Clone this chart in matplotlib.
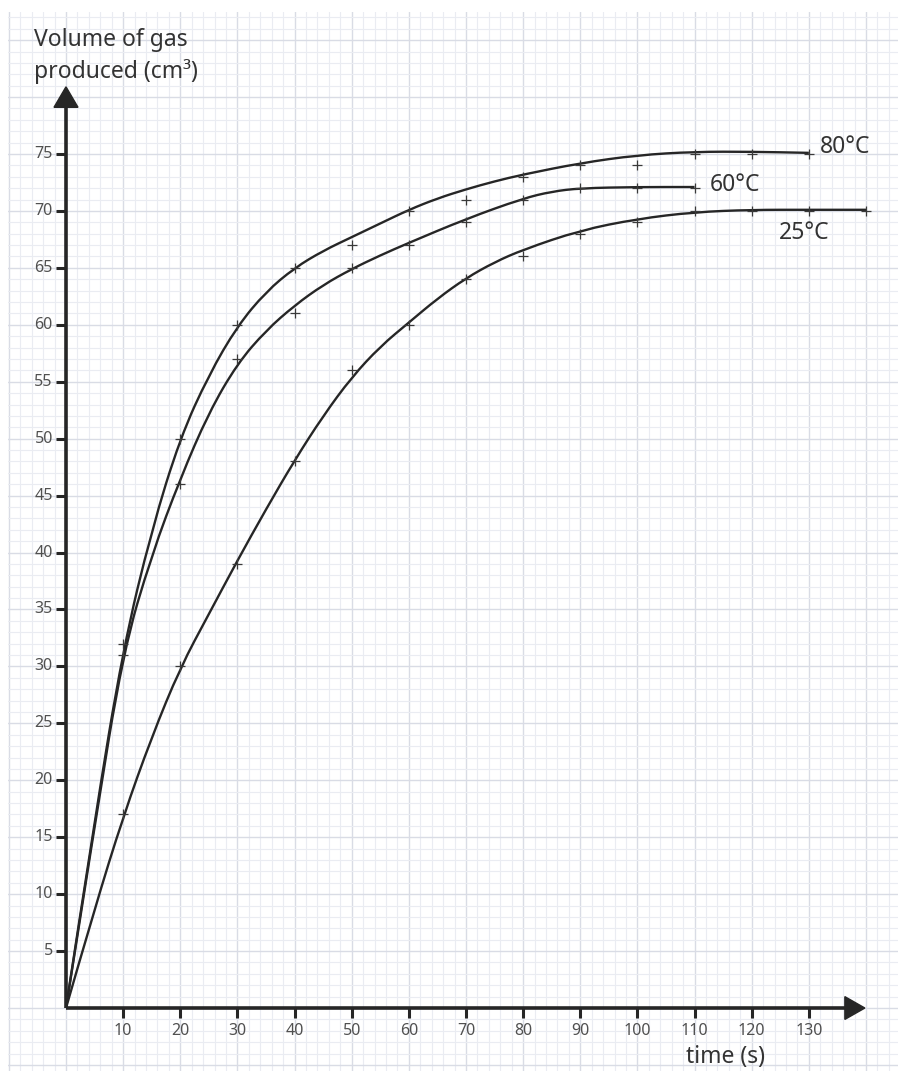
import numpy as np
import matplotlib
matplotlib.use("Agg")
import matplotlib.pyplot as plt
from matplotlib.path import Path
from matplotlib.patches import PathPatch

plt.rcParams['font.family'] = ['Noto Sans', 'DejaVu Sans']

# measured points (time s, volume cm3)
t_80 = [10, 20, 30, 40, 50, 60, 70, 80, 90, 100, 110, 120, 130]
v_80 = [32, 50, 60, 65, 67, 70, 71, 73, 74, 74, 75, 75, 75]
t_60 = [10, 20, 30, 40, 50, 60, 70, 80, 90, 100, 110]
v_60 = [31, 46, 57, 61, 65, 67, 69, 71, 72, 72, 72]
t_25 = [10, 20, 30, 40, 50, 60, 70, 80, 90, 100, 110, 120, 130, 140]
v_25 = [17, 30, 39, 48, 56, 60, 64, 66, 68, 69, 70, 70, 70, 70]

# hand drawn best fit curves
ct_80 = [0, 5, 10, 15, 20, 25, 30, 35, 40, 45, 50, 55, 60, 65, 70, 75, 80, 90, 100, 110, 120, 130]
cv_80 = [0, 16.5, 31.6, 42, 50.1, 55.6, 59.9, 62.9, 65, 66.5, 67.7, 68.9, 70.1, 71.1, 71.9, 72.6, 73.2, 74.2, 74.9, 75.2, 75.2, 75.1]
ct_60 = [0, 5, 10, 15, 20, 25, 30, 35, 40, 45, 50, 55, 60, 70, 80, 85, 90, 100, 110]
cv_60 = [0, 16, 31.3, 39.8, 46.5, 52.3, 56.6, 59.5, 61.7, 63.5, 64.9, 66.1, 67.2, 69.3, 71.1, 71.7, 72, 72.1, 72.1]
ct_25 = [0, 5, 10, 15, 20, 25, 30, 35, 40, 45, 50, 55, 60, 65, 70, 75, 80, 90, 100, 110, 120, 130, 140]
cv_25 = [0, 8.7, 16.8, 23.8, 29.9, 34.6, 39.3, 43.8, 48.1, 52, 55.4, 58.1, 60.2, 62.3, 64.1, 65.5, 66.6, 68.3, 69.3, 69.9, 70.1, 70.1, 70.1]

x_ticks = list(range(10, 140, 10))
y_ticks = list(range(5, 80, 5))

ink = '#262626'
grey = '#505050'
text_col = '#333333'

fig = plt.figure(figsize=(8.98, 10.71), dpi=100)
ax = fig.add_axes([8 / 898, 0, 890 / 898, 1059 / 1071])
ax.set_xlim(-10.15, 145.6)
ax.set_ylim(-5.53, 87.47)
for s in ax.spines.values():
    s.set_visible(False)

# graph paper
ax.set_xticks(np.arange(-10, 146, 10))
ax.set_xticks(np.arange(-10, 146, 2), minor=True)
ax.set_yticks(np.arange(-5, 88, 5))
ax.set_yticks(np.arange(-5, 88, 1), minor=True)
ax.tick_params(which='both', length=0, labelbottom=False, labelleft=False)
ax.grid(which='minor', color='#eaecf2', lw=0.8)
ax.grid(which='major', color='#d9dce5', lw=1.0)
ax.set_axisbelow(True)

# axes with arrow heads
y_top, x_end = 79.2, 136.5
ax.plot([0, 0], [0, y_top], color=ink, lw=2.6, solid_capstyle='butt', zorder=3)
ax.plot([0, x_end], [0, 0], color=ink, lw=2.6, solid_capstyle='butt', zorder=3)
ax.fill([-2.1, 2.1, 0], [y_top - 0.1, y_top - 0.1, 80.9], color=ink, zorder=3)
ax.fill([x_end - 0.2, x_end - 0.2, 139.8], [-1.0, 1.0, 0], color=ink, zorder=3)

ax.vlines(x_ticks, -0.9, 0, color=ink, lw=2.2, zorder=3)
ax.hlines(y_ticks, -1.75, 0, color=ink, lw=2.2, zorder=3)
for x in x_ticks:
    ax.text(x, -2.0, str(x), ha='center', va='center', fontsize=11.5, color=grey)
for y in y_ticks:
    ax.text(-2.3, y, str(y), ha='right', va='center', fontsize=11.5, color=grey)


def smooth(xs, ys):
    pts = np.column_stack([xs, ys])
    verts = [pts[0]]
    codes = [Path.MOVETO]
    for i in range(1, len(pts) - 1):
        verts += [pts[i], (pts[i] + pts[i + 1]) / 2]
        codes += [Path.CURVE3, Path.CURVE3]
    verts.append(pts[-1])
    codes.append(Path.LINETO)
    return Path(verts, codes)


for ct, cv, t, v in [(ct_80, cv_80, t_80, v_80), (ct_60, cv_60, t_60, v_60), (ct_25, cv_25, t_25, v_25)]:
    ax.add_patch(PathPatch(smooth(ct, cv), fill=False, edgecolor=ink, lw=1.7, zorder=4))
    ax.plot(t, v, ls='none', marker='+', ms=7, mew=0.9, color='#3a3a3a', zorder=5)

ax.text(132, 75.6, '80°C', ha='left', va='center', fontsize=16.5, color=text_col)
ax.text(112.6, 72.3, '60°C', ha='left', va='center', fontsize=16.5, color=text_col)
ax.text(124.8, 68.1, '25°C', ha='left', va='center', fontsize=16.5, color=text_col)

ax.text(115.5, -4.3, 'time (s)', ha='center', va='center', fontsize=16.5, color=text_col)
fig.text(34 / 898, 1 - 28 / 1071, 'Volume of gas\nproduced (cm³)', ha='left', va='top',
         fontsize=16.5, color=text_col, linespacing=1.35)

fig.savefig('out.png', dpi=100, facecolor='white')
